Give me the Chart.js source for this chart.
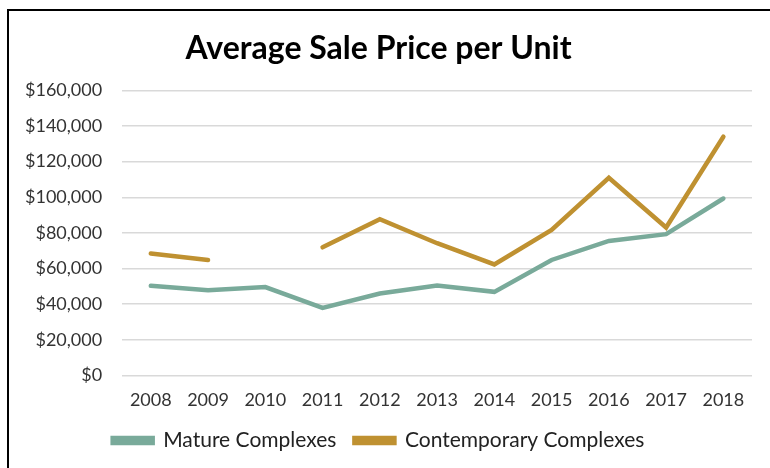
<!DOCTYPE html>
<html>
<head>
<meta charset="utf-8">
<script src="https://cdn.jsdelivr.net/npm/chart.js@4.4.1/dist/chart.umd.min.js"></script>
<style>
  body { margin: 0; background: #fff; }
  #wrap { position: relative; width: 770px; height: 468px; overflow: hidden; }
  #frame { position: absolute; left: 7px; top: 9px; width: 800px; height: 500px; border: 2px solid #000; box-sizing: border-box; pointer-events: none; }
</style>
</head>
<body>
<div id="wrap">
  <canvas id="chart" width="770" height="468"></canvas>
  <div id="frame"></div>
</div>
<script>
var years = ["2008", "2009", "2010", "2011", "2012", "2013", "2014", "2015", "2016", "2017", "2018"];
var mature = [50300, 47800, 49600, 37900, 46000, 50400, 46900, 64800, 75500, 79300, 99300];
var contemporary = [68400, 64800, null, 71900, 87700, 74200, 62300, 81700, 110900, 83000, 134000];
var yTicks = [0, 20000, 40000, 60000, 80000, 100000, 120000, 140000, 160000];

var tickFont = { family: "Lato, 'Noto Sans', sans-serif", size: 18 };

var ctx = document.getElementById("chart");
new Chart(ctx, {
  type: "line",
  data: {
    labels: years,
    datasets: [
      { label: "Mature Complexes", data: mature, borderColor: "#79aa9a", backgroundColor: "#79aa9a", borderWidth: 4.5, borderCapStyle: "round", pointRadius: 0, tension: 0, spanGaps: false },
      { label: "Contemporary Complexes", data: contemporary, borderColor: "#bf9131", backgroundColor: "#bf9131", borderWidth: 4.5, borderCapStyle: "round", pointRadius: 0, tension: 0, spanGaps: false }
    ]
  },
  options: {
    responsive: false,
    animation: false,
    layout: { padding: { left: 5, right: 18, top: 29, bottom: 7 } },
    plugins: {
      title: {
        display: true,
        text: "Average Sale Price per Unit",
        color: "#000",
        font: { family: "Lato, sans-serif", size: 32, weight: "bold" },
        padding: { top: 0, bottom: 23 }
      },
      legend: {
        position: "bottom",
        labels: {
          color: "#222",
          font: { family: "Lato, 'Noto Sans', sans-serif", size: 21 },
          boxWidth: 40,
          boxHeight: 5,
          padding: 18
        }
      },
      tooltip: { enabled: false }
    },
    scales: {
      x: {
        offset: true,
        grid: { display: false },
        border: { display: false },
        ticks: { color: "#333", font: tickFont, padding: 6, maxRotation: 0 },
        afterFit: function(axis) { axis.height -= 5; }
      },
      y: {
        min: 0,
        max: 160000,
        afterBuildTicks: function(axis) { axis.ticks = yTicks.map(function(v) { return { value: v }; }); },
        grid: { color: "#d9d9d9", lineWidth: 1.5, drawTicks: false },
        border: { display: false },
        ticks: {
          color: "#333",
          font: tickFont,
          padding: 20,
          callback: function(v) { return "$" + v.toLocaleString("en-US"); }
        }
      }
    }
  }
});
</script>
</body>
</html>
